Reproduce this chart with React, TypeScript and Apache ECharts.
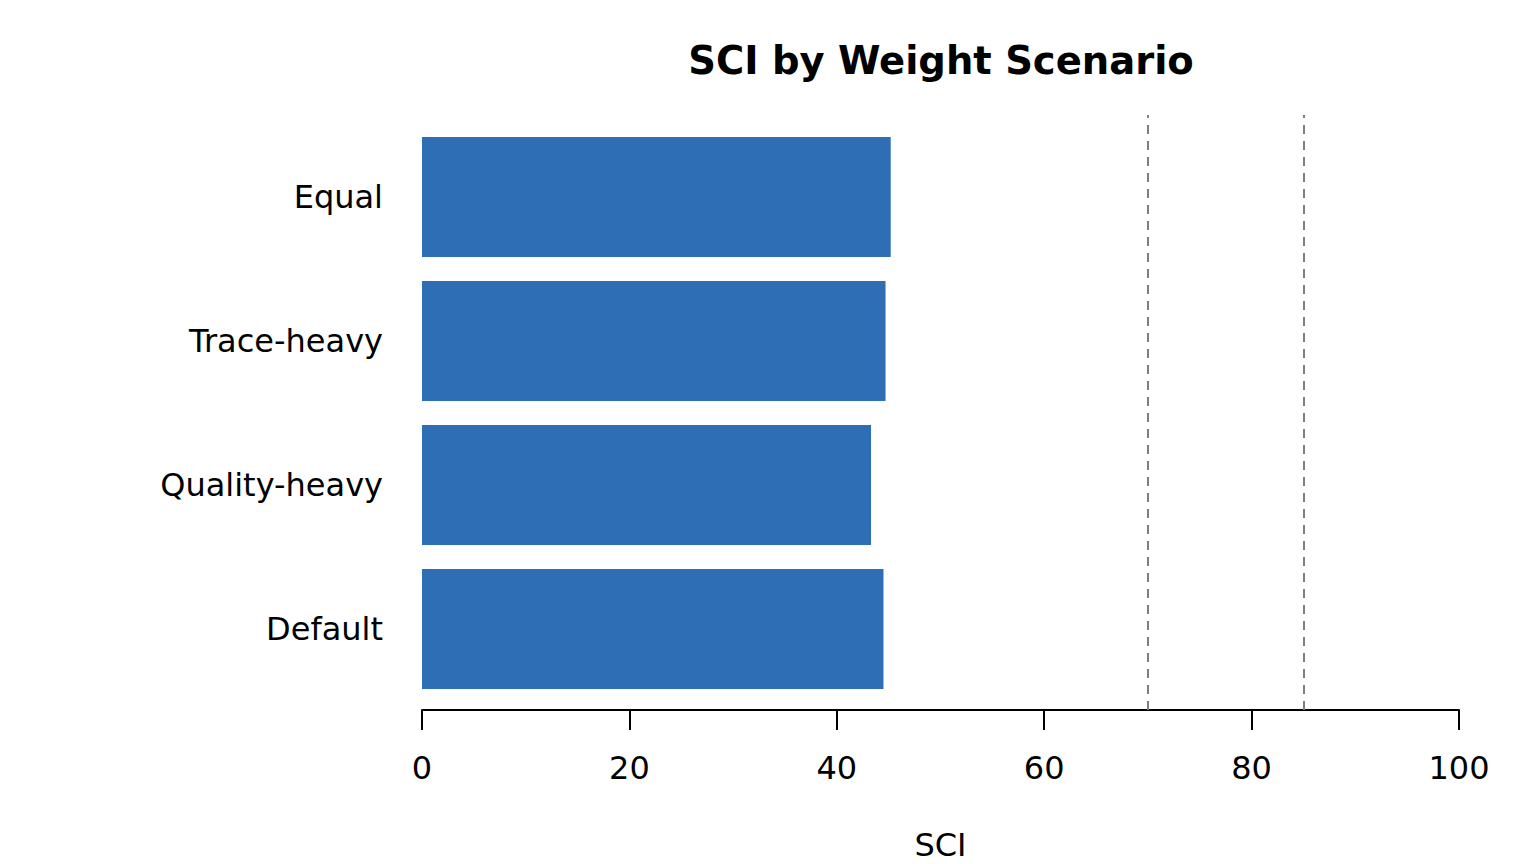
import { useEffect, useRef } from "react";
import * as echarts from "echarts";
import type { EChartsOption } from "echarts";

// bottom-up order, as the category axis draws it
const scenarios = ["Default", "Quality-heavy", "Trace-heavy", "Equal"];
const sciValues = [44.5, 43.3, 44.7, 45.2];
const thresholds = [70, 85];
const xTicks = [0, 20, 40, 60, 80, 100];

const FONT = "DejaVu Sans";
const BAR_COLOR = "#2e6eb5";

export default function App() {
  const chartDiv = useRef<HTMLDivElement | null>(null);

  useEffect(() => {
    const el = chartDiv.current;

    if (!el) {
      return;
    }

    const chart = echarts.init(el, null, { renderer: "svg" });

    const option = {
      animation: false,
      backgroundColor: "#ffffff",
      textStyle: { fontFamily: FONT },
      title: {
        text: "SCI by Weight Scenario",
        left: 936,
        top: 36,
        textAlign: "center",
        textStyle: {
          fontFamily: FONT,
          fontSize: 38.5,
          fontWeight: "bold",
          color: "#000000",
        },
      },
      grid: [
        // plot region: carries the x axis and the reference lines
        { left: 422, right: 77, top: 115, height: 595, outerBoundsMode: "none" },
        // bar region, inset so bars keep the R-style padding
        { left: 422, right: 77, top: 125, height: 576, outerBoundsMode: "none" },
      ],
      xAxis: [
        {
          gridIndex: 0,
          type: "value",
          min: xTicks[0],
          max: xTicks[xTicks.length - 1],
          interval: 20,
          name: "SCI",
          nameLocation: "middle",
          nameGap: 119,
          nameTextStyle: { fontFamily: FONT, fontSize: 32, color: "#000000" },
          axisLine: { show: true, lineStyle: { color: "#000000", width: 2 } },
          axisTick: { show: true, length: 20, lineStyle: { color: "#000000", width: 2 } },
          axisLabel: { fontFamily: FONT, fontSize: 32, color: "#000000", margin: 42 },
          splitLine: { show: false },
        },
        {
          gridIndex: 1,
          type: "value",
          min: xTicks[0],
          max: xTicks[xTicks.length - 1],
          show: false,
        },
      ],
      yAxis: [
        { gridIndex: 0, type: "value", min: 0, max: 1, show: false },
        {
          gridIndex: 1,
          type: "category",
          data: scenarios,
          axisLine: { show: false },
          axisTick: { show: false },
          axisLabel: { fontFamily: FONT, fontSize: 32, color: "#000000", margin: 39 },
        },
      ],
      series: [
        {
          type: "scatter",
          xAxisIndex: 0,
          yAxisIndex: 0,
          data: [],
          silent: true,
          markLine: {
            silent: true,
            symbol: "none",
            label: { show: false },
            lineStyle: { color: "#7f7f7f", width: 2, type: [9, 7] },
            data: thresholds.map((v) => ({ xAxis: v })),
          },
        },
        {
          type: "bar",
          xAxisIndex: 1,
          yAxisIndex: 1,
          data: sciValues,
          barCategoryGap: "16.67%",
          itemStyle: { color: BAR_COLOR },
        },
      ],
    } as EChartsOption;

    chart.setOption(option);

    return () => {
      chart.dispose();
    };
  }, []);

  return <div ref={chartDiv} style={{ width: 1536, height: 864, margin: -8 }} />;
}
